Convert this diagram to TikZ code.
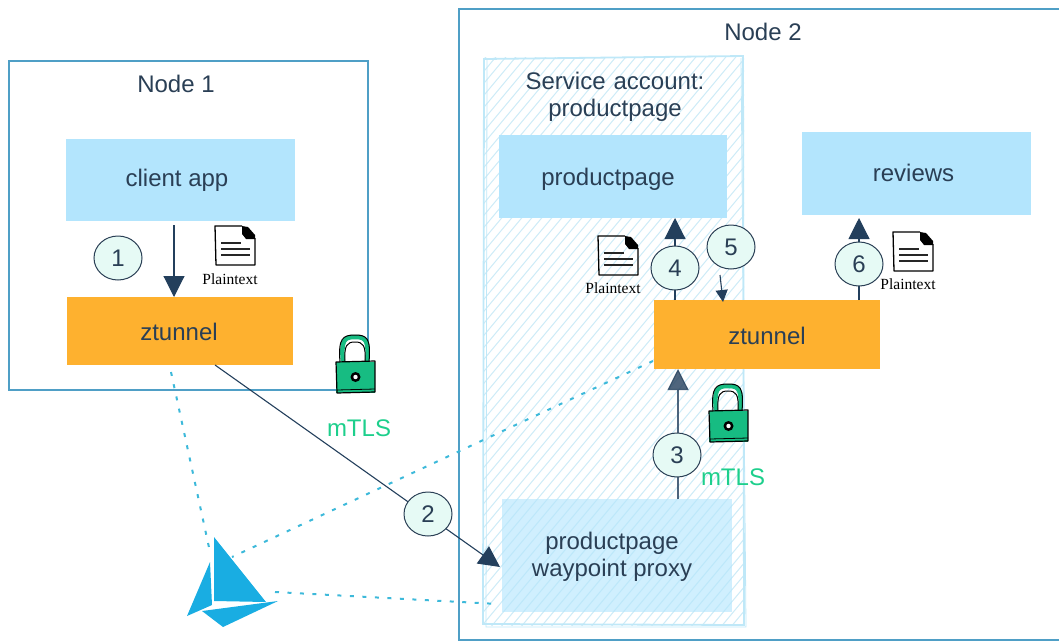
\documentclass[tikz,border=0pt]{standalone}
\usepackage{fontspec}
\setmainfont{Liberation Sans}
\newfontfamily\plainserif{Liberation Serif}
\usetikzlibrary{arrows.meta,shapes.geometric}
\definecolor{inkblue}{HTML}{2A3F55}
\definecolor{arrowblue}{HTML}{233F5C}
\definecolor{boxedge}{HTML}{4F9FC6}
\definecolor{skyfill}{HTML}{B3E5FD}
\definecolor{orangefill}{HTML}{FEB12F}
\definecolor{circlefill}{HTML}{E6FAF5}
\definecolor{dotcyan}{HTML}{3DB9DA}
\definecolor{mtlsgreen}{HTML}{1DCF8C}
\definecolor{lockgreen}{HTML}{17BC82}
\definecolor{sailblue}{HTML}{19ADE2}
\definecolor{hatchblue}{HTML}{CDEBF7}
\definecolor{hatchedge}{HTML}{BFE8F8}
\tikzset{
  x=1pt,y=-1pt,
  every node/.style={inner sep=0pt,outer sep=0pt},
  nodebox/.style={draw=boxedge,line width=1.2pt},
  label24/.style={font=\fontsize{24}{29}\selectfont,text=inkblue,align=center},
  baseoff/.style={text height={18pt+#1},text depth={18pt-#1}},
  bluebox/.style={fill=skyfill,anchor=north west,label24},
  orangebox/.style={fill=orangefill,anchor=north west,label24},
  numcircle/.style={ellipse,draw=inkblue,line width=1pt,fill=circlefill,minimum width=48pt,minimum height=44pt,label24},
  bigflow/.style={draw=arrowblue,line width=1.1pt,-{Triangle[length=21pt,width=21pt,fill=arrowblue]}},
  smallflow/.style={draw=arrowblue,line width=1.1pt,-{Triangle[length=12pt,width=12pt,fill=arrowblue]}},
  dotlink/.style={draw=dotcyan,line width=2pt,dash pattern=on 4pt off 8.5pt},
  mtls/.style={font=\fontsize{24}{29}\selectfont,text=mtlsgreen},
  plainlabel/.style={font=\plainserif\fontsize{15.5}{18}\selectfont,text=black},
  docicon/.pic={
    \draw[black,line width=1.3pt,line join=round] (27,0) -- (0,0) -- (1,39) -- (40,39) -- (40,12);
    \fill[black] (27,0) -- (33,1) -- (40,9) -- (40,13) -- (31,13) -- (27,8) -- cycle;
    \draw[black!85,line width=1.2pt] (6,17) -- (26,17) (6,23) -- (35,23) (6,29) -- (35,29);
  },
  lockicon/.pic={
    \draw[lockgreen,line width=4.5pt] (7,27) .. controls (5,5) and (8,2) .. (19,2) .. controls (30,2) and (33,5) .. (31,27);
    \draw[black,line width=1pt] (4,27) .. controls (2,3) and (7,0) .. (19,0) .. controls (31,0) and (35,3) .. (33,27);
    \draw[black,line width=1pt] (9,27) .. controls (8,10) and (11,7) .. (19,7) .. controls (27,7) and (30,10) .. (29,27);
    \fill[lockgreen] (0,27) rectangle (39,58);
    \draw[black,line width=1.2pt,line join=round] (0,27) -- (39,26) -- (39,57) -- (1,58) -- cycle;
    \draw[black,line width=.8pt] (1,55) -- (39,54);
    \fill[black] (19.5,42) circle (5);
    \fill[white] (19.5,42) circle (2.2);
  }
}
\begin{document}
\begin{tikzpicture}
\useasboundingbox (0,0) rectangle (1059,642);
% outer boxes
\node[nodebox,anchor=north west,minimum width=359pt,minimum height=329pt] (node1) at (9,61) {};
\draw[nodebox] (1062,9) -- (459,9) -- (459,640) -- (1062,640);
\node[label24] (node1label) at (176,84) {Node 1};
\node[label24] (node2label) at (763,32) {Node 2};
% hatched service account
\begin{scope}
  \clip (484,58) rectangle (744,625);
  \foreach \i in {-130,-120,...,760}
    \draw[hatchblue,line width=1pt] ({\i},640) -- ({\i+500},40);
\end{scope}
\draw[hatchedge,line width=1.8pt] (484,59) -- (743,56) -- (744,625) -- (483,624) -- cycle;
\draw[hatchedge,line width=.8pt] (487,58) -- (486,627) -- (746,627) -- (741,58);
\node[label24,text width=240pt,font=\fontsize{24}{27}\selectfont] (salabel) at (615,97) {Service account:\\productpage};
% boxes
\node[bluebox,baseoff=6,minimum width=229pt,minimum height=82pt] (client) at (66,139) {client app\kern7pt};
\node[orangebox,baseoff=9.7,minimum width=226pt,minimum height=68pt] (zt1) at (67,297) {ztunnel\kern2pt};
\node[bluebox,baseoff=8.5,minimum width=228pt,minimum height=83pt] (pp) at (499,135) {productpage\kern10pt};
\node[bluebox,baseoff=8,minimum width=229pt,minimum height=83pt] (reviews) at (802,132) {reviews\kern6pt};
\node[orangebox,baseoff=9.5,minimum width=226pt,minimum height=69pt] (zt2) at (654,300) {ztunnel};
\node[anchor=north west,fill=skyfill,fill opacity=.62,text opacity=1,label24,minimum width=230pt,minimum height=113pt,
  font=\fontsize{24}{27}\selectfont] (wp) at (502,499) {\rule{0pt}{20.5pt}productpage\kern10pt\\waypoint proxy\kern10pt};
% sail
\coordinate (sailtop) at (210,552);
\coordinate (sailright) at (275,592);
\coordinate (sailmid) at (232,557);
\fill[sailblue] (214,537) -- (266,602) -- (214,601) -- cycle;
\fill[sailblue] (210,562) -- (212,605) -- (187,616) -- cycle;
\fill[sailblue] (202,611) -- (278,601) -- (223,627) -- cycle;
% free ends and anchors
\coordinate (a1) at (174,0);
\coordinate (a3) at (678,0);
\coordinate (a4) at (675,0);
\coordinate (a6) at (859,0);
\coordinate (p2s) at (215,365);
\coordinate (p2e) at (500,567);
\coordinate (p5s) at (720,275);
\coordinate (p5e) at (723,302);
\coordinate (d1s) at (171,372);
\coordinate (d2s) at (653,361);
\coordinate (d3e) at (498,604);
% dotted links
\draw[dotlink] (d1s) -- (sailtop);
\draw[dotlink] (d2s) -- (sailmid);
\draw[dotlink] (sailright) -- (d3e);
% connectors
\draw[bigflow,shorten <=4pt] (client.south -| a1) -- (zt1.north -| a1);
\draw[bigflow] (p2s) -- (p2e);
\draw[bigflow,opacity=.8] (wp.north -| a3) -- (zt2.south -| a3);
\draw[bigflow] (zt2.north -| a4) -- (pp.south -| a4);
\draw[bigflow] (zt2.north -| a6) -- ([yshift=-3pt]reviews.south -| a6);
\draw[smallflow] (p5s) -- (p5e);
% circles
\foreach \n/\x/\y in {1/118/258,2/428/514,3/677/455,4/675/268,5/731/247,6/859/264}
  \node[numcircle] (c\n) at (\x,\y) {\n};
% icons
\pic at (215,226) {docicon};
\pic at (598,236) {docicon};
\pic at (893,232) {docicon};
\node[plainlabel] (pt1) at (230,279) {Plaintext};
\node[plainlabel] (pt2) at (613,288) {Plaintext};
\node[plainlabel] (pt3) at (908,284) {Plaintext};
\pic at (336,335) {lockicon};
\pic at (709,384) {lockicon};
\node[mtls] (m1) at (359,428) {mTLS};
\node[mtls] (m2) at (733,477) {mTLS};
\end{tikzpicture}
\end{document}
